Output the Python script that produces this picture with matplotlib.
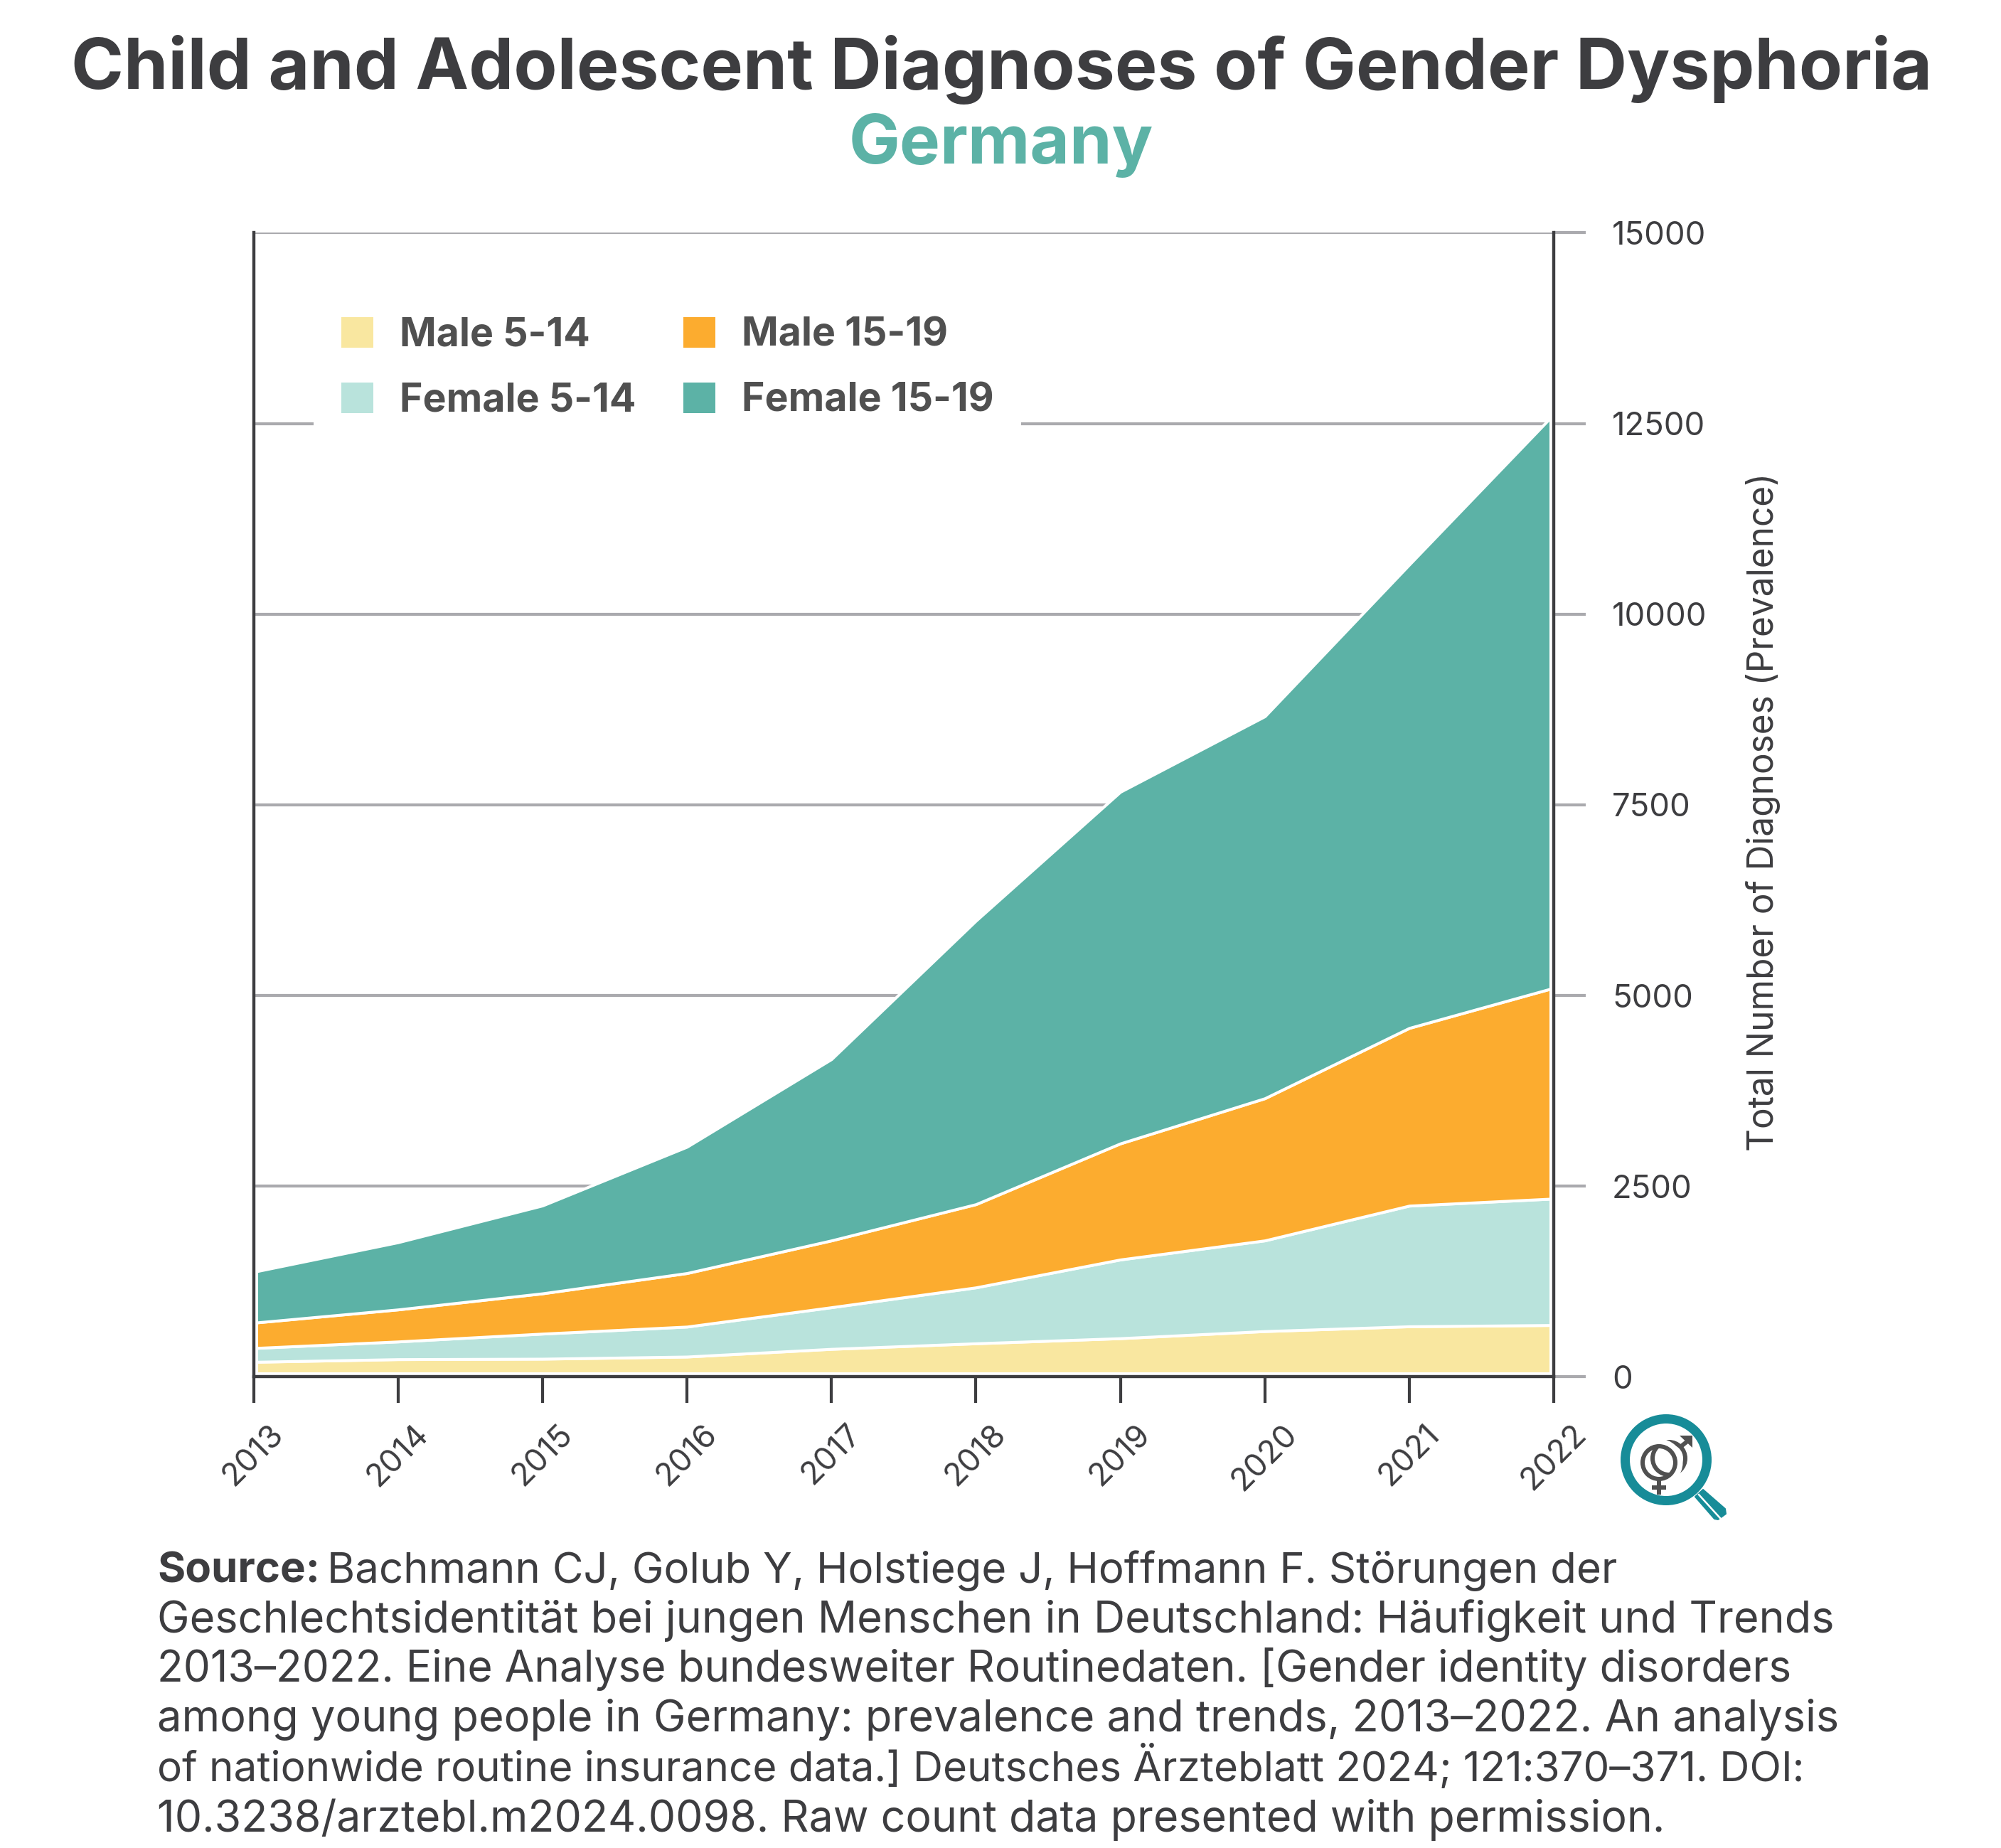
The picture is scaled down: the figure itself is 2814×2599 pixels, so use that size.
import matplotlib
matplotlib.use('Agg')
import numpy as np
import matplotlib.pyplot as plt
from matplotlib.patches import Circle, Patch, Polygon

years = [2013, 2014, 2015, 2016, 2017, 2018, 2019, 2020, 2021, 2022]
male_5_14 = [196, 231, 237, 265, 366, 439, 506, 599, 662, 679]
female_5_14 = [181, 232, 329, 393, 546, 733, 1032, 1189, 1582, 1658]
male_15_19 = [332, 420, 528, 702, 876, 1091, 1522, 1864, 2330, 2763]
female_15_19 = [667, 881, 1152, 1656, 2377, 3717, 4610, 5008, 6076, 7520]
series_labels = ['Male 5-14', 'Female 5-14', 'Male 15-19', 'Female 15-19']
series_colors = ['#f9e7a0', '#b9e3dc', '#fcac2f', '#5cb2a6']
y_ticks = [0, 2500, 5000, 7500, 10000, 12500, 15000]

title = 'Child and Adolescent Diagnoses of Gender Dysphoria'
subtitle = 'Germany'
source_lines = [
    'Bachmann CJ, Golub Y, Holstiege J, Hoffmann F. Störungen der',
    'Geschlechtsidentität bei jungen Menschen in Deutschland: Häufigkeit und Trends',
    '2013–2022. Eine Analyse bundesweiter Routinedaten. [Gender identity disorders',
    'among young people in Germany: prevalence and trends, 2013–2022. An analysis',
    'of nationwide routine insurance data.] Deutsches Ärzteblatt 2024; 121:370–371. DOI:',
    '10.3238/arztebl.m2024.0098. Raw count data presented with permission.',
]

W, H, DPI = 2814, 2599, 300
DARK = '#3d3d40'
GREY = '#aaaaae'
TEAL = '#178c98'
ICON = '#505050'


def px(v):
    # pixels to points
    return v * 72 / DPI


plt.rcParams['font.family'] = ['Inter', 'DejaVu Sans']

fig = plt.figure(figsize=(W / DPI, H / DPI), dpi=DPI, facecolor='white')
ax = fig.add_axes([356.5 / W, 1 - 1936.4 / H, (2185 - 356.5) / W, (1936.4 - 327.4) / H])

# overlay in picture pixels, for titles, source and the icon
ov = fig.add_axes([0, 0, 1, 1], zorder=5)
ov.set_xlim(0, W)
ov.set_ylim(H, 0)
ov.axis('off')

ax.stackplot(years, male_5_14, female_5_14, male_15_19, female_15_19,
             colors=series_colors, edgecolor='white', linewidth=px(4), zorder=3)

# white gap between the areas and the axes
totals = np.sum([male_5_14, female_5_14, male_15_19, female_15_19], axis=0)
ax.vlines(years[0], 0, totals[0], color='white', lw=px(11), zorder=4)
ax.vlines(years[-1], 0, totals[-1], color='white', lw=px(13), zorder=4)
ax.axhline(0, color='white', lw=px(12), zorder=4)

ax.set_xlim(years[0], years[-1])
ax.set_ylim(0, 15000)
ax.set_axisbelow(True)
ax.yaxis.grid(True, color=GREY, lw=px(4.2), zorder=1)
ax.xaxis.grid(False)

ax.spines['top'].set_visible(False)
for s in ['left', 'right', 'bottom']:
    ax.spines[s].set_color(DARK)
    ax.spines[s].set_linewidth(px(4.4))
    ax.spines[s].set_zorder(6)

ax.set_xticks(years)
ax.set_xticklabels(years, rotation=45, ha='center', rotation_mode='default')
ax.tick_params(axis='x', length=px(37), width=px(4.2), color=DARK, labelcolor=DARK,
               labelsize=10.8, pad=px(22))
ax.yaxis.tick_right()
ax.set_yticks(y_ticks)
ax.tick_params(axis='y', length=px(45), width=px(4.2), color=GREY, labelcolor=DARK,
               labelsize=10.9, pad=px(37))
ax.yaxis.get_major_ticks()[0].tick2line.set_color(DARK)
ax.yaxis.set_label_position('right')
ax.set_ylabel('Total Number of Diagnoses (Prevalence)', color=DARK, fontsize=11.9,
              labelpad=px(54), y=0.494)

handles = [Patch(facecolor=c, edgecolor='none') for c in series_colors]
leg = ax.legend(handles, series_labels, ncol=2, loc='upper left',
                bbox_to_anchor=(441, 407), bbox_transform=ov.transData,
                frameon=True, framealpha=1, facecolor='white', edgecolor='none', fancybox=False,
                fontsize=13.3, handlelength=0.81, handleheight=0.81,
                handletextpad=0.67, labelspacing=0.72, columnspacing=1.2, borderaxespad=0, borderpad=0.7)
leg.set_zorder(5)
for t in leg.get_texts():
    t.set_color('#505050')
    t.set_fontweight('bold')

ov.text(1409, 98, title, ha='center', va='center', fontsize=24.0, fontweight='bold', color=DARK)
ov.text(1408, 204, subtitle, ha='center', va='center', fontsize=23, fontweight='bold', color='#5cb2a6')

# source block, sizes per line so the line ends land where they do in the original
sx = 221
sy = [2226, 2296, 2365, 2435, 2505, 2576]
sizes = [14.4, 14.7, 14.5, 14.7, 14.0, 14.6]
ov.text(sx, sy[0], 'Source:', fontsize=14.4, fontweight='bold', color=DARK, va='baseline')
ov.text(460, sy[0], source_lines[0], fontsize=sizes[0], color=DARK, va='baseline')
for yy, size, line in zip(sy[1:], sizes[1:], source_lines[1:]):
    ov.text(sx, yy, line, fontsize=size, color=DARK, va='baseline')

# magnifier icon with the two symbols
ov.add_patch(Polygon([[2395, 2095], [2426, 2122], [2427, 2129], [2416, 2137], [2411, 2136], [2384, 2105]],
                     closed=True, facecolor=TEAL, edgecolor=TEAL, lw=px(2), joinstyle='round'))
ov.plot([2389, 2419], [2102, 2135], color='white', lw=px(2.5))
ov.add_patch(Circle((2343, 2053), 57.5, fill=False, edgecolor=TEAL, lw=px(13)))
ov.add_patch(Circle((2347, 2051), 23, fill=False, edgecolor=ICON, lw=px(6)))
ov.plot([2363, 2378], [2035, 2023], color=ICON, lw=px(6), solid_capstyle='butt')
ov.add_patch(Polygon([[2362, 2019], [2380, 2019], [2380, 2036]], closed=True, color=ICON, lw=0))
ov.add_patch(Circle((2333, 2057), 29, fill=False, edgecolor='white', lw=px(9)))
ov.add_patch(Circle((2333, 2057), 23, fill=False, edgecolor=ICON, lw=px(6)))
ov.plot([2333, 2333], [2082, 2102], color=ICON, lw=px(6), solid_capstyle='butt')
ov.plot([2323, 2343], [2092, 2092], color=ICON, lw=px(6), solid_capstyle='butt')
ov.set_xlim(0, W)
ov.set_ylim(H, 0)

fig.savefig('out.png', dpi=DPI)
